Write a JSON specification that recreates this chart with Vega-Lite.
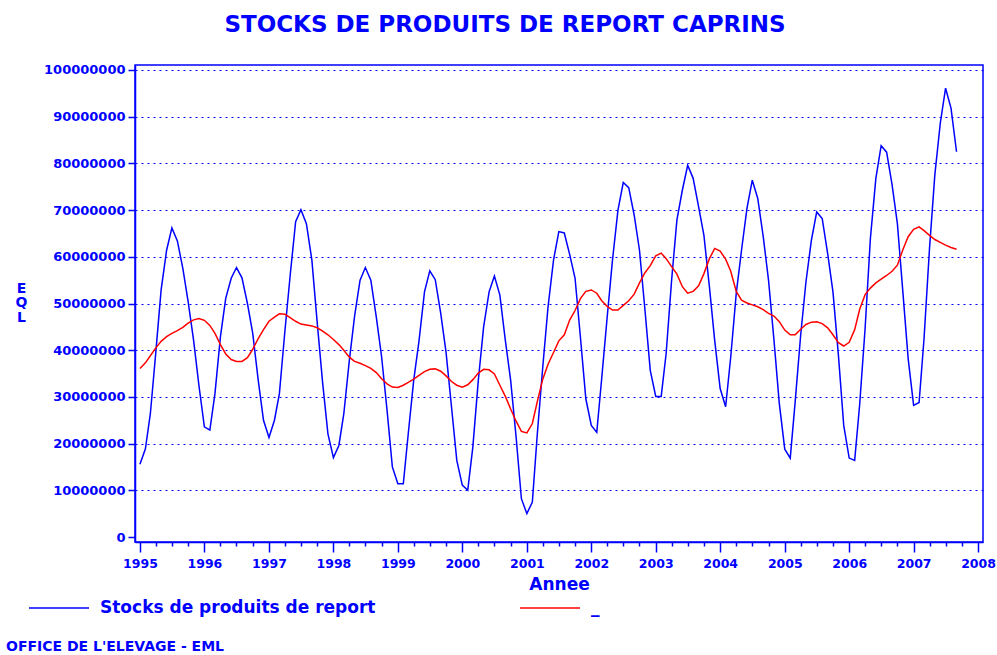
{
"$schema": "https://vega.github.io/schema/vega-lite/v6.json",
"width": 848,
"height": 477,
"autosize": {"type": "none"},
"padding": {"left": 135, "top": 65, "right": 14, "bottom": 113},
"background": "white",
"title": {"text": "STOCKS DE PRODUITS DE REPORT CAPRINS", "font": "DejaVu Sans", "fontSize": 23, "fontWeight": "bold", "color": "#0000FF", "anchor": "middle", "frame": "group", "dx": -54, "baseline": "alphabetic", "offset": 9},
"config": {
  "view": {"stroke": "#0000FF", "strokeWidth": 1.5},
  "axis": {"domainColor": "#0000FF", "domainWidth": 1.5, "tickColor": "#0000FF", "tickWidth": 1.5, "labelColor": "#0000FF", "labelFont": "DejaVu Sans", "labelFontWeight": "bold", "titleColor": "#0000FF", "titleFont": "DejaVu Sans", "titleFontWeight": "bold"}
},
"data": {"values": [
{"date":"1995-01-01","stocks":15600000,"trend":36100000},
{"date":"1995-02-01","stocks":18900000,"trend":37300000},
{"date":"1995-03-01","stocks":26400000,"trend":38800000},
{"date":"1995-04-01","stocks":39600000,"trend":40500000},
{"date":"1995-05-01","stocks":52900000,"trend":41900000},
{"date":"1995-06-01","stocks":61400000,"trend":42900000},
{"date":"1995-07-01","stocks":66200000,"trend":43600000},
{"date":"1995-08-01","stocks":63400000,"trend":44200000},
{"date":"1995-09-01","stocks":57500000,"trend":44900000},
{"date":"1995-10-01","stocks":50400000,"trend":45800000},
{"date":"1995-11-01","stocks":42100000,"trend":46500000},
{"date":"1995-12-01","stocks":32500000,"trend":46800000},
{"date":"1996-01-01","stocks":23600000,"trend":46400000},
{"date":"1996-02-01","stocks":22900000,"trend":45300000},
{"date":"1996-03-01","stocks":30700000,"trend":43600000},
{"date":"1996-04-01","stocks":42900000,"trend":41200000},
{"date":"1996-05-01","stocks":51100000,"trend":39200000},
{"date":"1996-06-01","stocks":55400000,"trend":38000000},
{"date":"1996-07-01","stocks":57700000,"trend":37600000},
{"date":"1996-08-01","stocks":55500000,"trend":37600000},
{"date":"1996-09-01","stocks":50000000,"trend":38400000},
{"date":"1996-10-01","stocks":43600000,"trend":40200000},
{"date":"1996-11-01","stocks":33600000,"trend":42500000},
{"date":"1996-12-01","stocks":25000000,"trend":44400000},
{"date":"1997-01-01","stocks":21300000,"trend":46200000},
{"date":"1997-02-01","stocks":25000000,"trend":47100000},
{"date":"1997-03-01","stocks":30700000,"trend":47800000},
{"date":"1997-04-01","stocks":44000000,"trend":47700000},
{"date":"1997-05-01","stocks":56000000,"trend":47000000},
{"date":"1997-06-01","stocks":67500000,"trend":46200000},
{"date":"1997-07-01","stocks":70100000,"trend":45600000},
{"date":"1997-08-01","stocks":67100000,"trend":45400000},
{"date":"1997-09-01","stocks":59300000,"trend":45200000},
{"date":"1997-10-01","stocks":46000000,"trend":44800000},
{"date":"1997-11-01","stocks":33000000,"trend":44100000},
{"date":"1997-12-01","stocks":22100000,"trend":43300000},
{"date":"1998-01-01","stocks":17000000,"trend":42300000},
{"date":"1998-02-01","stocks":19600000,"trend":41200000},
{"date":"1998-03-01","stocks":26400000,"trend":40000000},
{"date":"1998-04-01","stocks":37700000,"trend":38500000},
{"date":"1998-05-01","stocks":47300000,"trend":37600000},
{"date":"1998-06-01","stocks":55000000,"trend":37200000},
{"date":"1998-07-01","stocks":57700000,"trend":36700000},
{"date":"1998-08-01","stocks":55000000,"trend":36100000},
{"date":"1998-09-01","stocks":47100000,"trend":35200000},
{"date":"1998-10-01","stocks":38600000,"trend":33900000},
{"date":"1998-11-01","stocks":27100000,"trend":32800000},
{"date":"1998-12-01","stocks":15000000,"trend":32100000},
{"date":"1999-01-01","stocks":11400000,"trend":32000000},
{"date":"1999-02-01","stocks":11400000,"trend":32500000},
{"date":"1999-03-01","stocks":22100000,"trend":33100000},
{"date":"1999-04-01","stocks":33600000,"trend":33800000},
{"date":"1999-05-01","stocks":42000000,"trend":34600000},
{"date":"1999-06-01","stocks":52500000,"trend":35400000},
{"date":"1999-07-01","stocks":57000000,"trend":35900000},
{"date":"1999-08-01","stocks":55100000,"trend":36000000},
{"date":"1999-09-01","stocks":47900000,"trend":35500000},
{"date":"1999-10-01","stocks":39600000,"trend":34500000},
{"date":"1999-11-01","stocks":27900000,"trend":33300000},
{"date":"1999-12-01","stocks":16400000,"trend":32500000},
{"date":"2000-01-01","stocks":11100000,"trend":32100000},
{"date":"2000-02-01","stocks":10000000,"trend":32600000},
{"date":"2000-03-01","stocks":19300000,"trend":33700000},
{"date":"2000-04-01","stocks":33600000,"trend":35100000},
{"date":"2000-05-01","stocks":45000000,"trend":35900000},
{"date":"2000-06-01","stocks":52500000,"trend":35800000},
{"date":"2000-07-01","stocks":55900000,"trend":34900000},
{"date":"2000-08-01","stocks":51800000,"trend":32500000},
{"date":"2000-09-01","stocks":42100000,"trend":30100000},
{"date":"2000-10-01","stocks":33600000,"trend":27400000},
{"date":"2000-11-01","stocks":21400000,"trend":24800000},
{"date":"2000-12-01","stocks":8200000,"trend":22600000},
{"date":"2001-01-01","stocks":5000000,"trend":22300000},
{"date":"2001-02-01","stocks":7500000,"trend":24300000},
{"date":"2001-03-01","stocks":22000000,"trend":29000000},
{"date":"2001-04-01","stocks":36400000,"trend":33800000},
{"date":"2001-05-01","stocks":49300000,"trend":37000000},
{"date":"2001-06-01","stocks":59300000,"trend":39500000},
{"date":"2001-07-01","stocks":65400000,"trend":42000000},
{"date":"2001-08-01","stocks":65100000,"trend":43300000},
{"date":"2001-09-01","stocks":60400000,"trend":46500000},
{"date":"2001-10-01","stocks":55400000,"trend":48500000},
{"date":"2001-11-01","stocks":42500000,"trend":51100000},
{"date":"2001-12-01","stocks":29600000,"trend":52600000},
{"date":"2002-01-01","stocks":23900000,"trend":52900000},
{"date":"2002-02-01","stocks":22400000,"trend":52200000},
{"date":"2002-03-01","stocks":34000000,"trend":50600000},
{"date":"2002-04-01","stocks":47100000,"trend":49400000},
{"date":"2002-05-01","stocks":59300000,"trend":48600000},
{"date":"2002-06-01","stocks":70000000,"trend":48600000},
{"date":"2002-07-01","stocks":75900000,"trend":49600000},
{"date":"2002-08-01","stocks":74800000,"trend":50600000},
{"date":"2002-09-01","stocks":68900000,"trend":52000000},
{"date":"2002-10-01","stocks":61400000,"trend":54400000},
{"date":"2002-11-01","stocks":48600000,"trend":56600000},
{"date":"2002-12-01","stocks":35700000,"trend":58100000},
{"date":"2003-01-01","stocks":30100000,"trend":60200000},
{"date":"2003-02-01","stocks":30100000,"trend":60800000},
{"date":"2003-03-01","stocks":39300000,"trend":59600000},
{"date":"2003-04-01","stocks":55000000,"trend":57900000},
{"date":"2003-05-01","stocks":67900000,"trend":56300000},
{"date":"2003-06-01","stocks":74300000,"trend":53600000},
{"date":"2003-07-01","stocks":79600000,"trend":52200000},
{"date":"2003-08-01","stocks":76800000,"trend":52600000},
{"date":"2003-09-01","stocks":70700000,"trend":53800000},
{"date":"2003-10-01","stocks":64600000,"trend":56400000},
{"date":"2003-11-01","stocks":53600000,"trend":59600000},
{"date":"2003-12-01","stocks":42100000,"trend":61800000},
{"date":"2004-01-01","stocks":31800000,"trend":61200000},
{"date":"2004-02-01","stocks":27900000,"trend":59500000},
{"date":"2004-03-01","stocks":38600000,"trend":56900000},
{"date":"2004-04-01","stocks":52100000,"trend":52600000},
{"date":"2004-05-01","stocks":61400000,"trend":50700000},
{"date":"2004-06-01","stocks":70400000,"trend":50100000},
{"date":"2004-07-01","stocks":76400000,"trend":49700000},
{"date":"2004-08-01","stocks":72500000,"trend":49300000},
{"date":"2004-09-01","stocks":64300000,"trend":48700000},
{"date":"2004-10-01","stocks":55000000,"trend":47900000},
{"date":"2004-11-01","stocks":42100000,"trend":47300000},
{"date":"2004-12-01","stocks":28600000,"trend":46100000},
{"date":"2005-01-01","stocks":18800000,"trend":44300000},
{"date":"2005-02-01","stocks":16900000,"trend":43300000},
{"date":"2005-03-01","stocks":29000000,"trend":43300000},
{"date":"2005-04-01","stocks":43200000,"trend":44500000},
{"date":"2005-05-01","stocks":54600000,"trend":45500000},
{"date":"2005-06-01","stocks":63600000,"trend":46000000},
{"date":"2005-07-01","stocks":69600000,"trend":46100000},
{"date":"2005-08-01","stocks":68200000,"trend":45700000},
{"date":"2005-09-01","stocks":60700000,"trend":44800000},
{"date":"2005-10-01","stocks":52500000,"trend":43300000},
{"date":"2005-11-01","stocks":38900000,"trend":41600000},
{"date":"2005-12-01","stocks":23900000,"trend":40900000},
{"date":"2006-01-01","stocks":16900000,"trend":41700000},
{"date":"2006-02-01","stocks":16400000,"trend":44400000},
{"date":"2006-03-01","stocks":28200000,"trend":48700000},
{"date":"2006-04-01","stocks":44600000,"trend":51900000},
{"date":"2006-05-01","stocks":63900000,"trend":53300000},
{"date":"2006-06-01","stocks":76800000,"trend":54400000},
{"date":"2006-07-01","stocks":83800000,"trend":55200000},
{"date":"2006-08-01","stocks":82400000,"trend":56000000},
{"date":"2006-09-01","stocks":75400000,"trend":56900000},
{"date":"2006-10-01","stocks":67100000,"trend":58200000},
{"date":"2006-11-01","stocks":52500000,"trend":61500000},
{"date":"2006-12-01","stocks":38200000,"trend":64300000},
{"date":"2007-01-01","stocks":28200000,"trend":65900000},
{"date":"2007-02-01","stocks":28800000,"trend":66400000},
{"date":"2007-03-01","stocks":42500000,"trend":65600000},
{"date":"2007-04-01","stocks":61800000,"trend":64600000},
{"date":"2007-05-01","stocks":77500000,"trend":63700000},
{"date":"2007-06-01","stocks":88600000,"trend":63100000},
{"date":"2007-07-01","stocks":96100000,"trend":62500000},
{"date":"2007-08-01","stocks":91800000,"trend":62000000},
{"date":"2007-09-01","stocks":82500000,"trend":61600000}
]},
"transform": [{"fold": ["stocks", "trend"], "as": ["serie", "value"]}],
"mark": {"type": "line", "strokeWidth": 1.5},
"encoding": {
  "x": {"field": "date", "type": "temporal",
    "scale": {"type": "utc", "domain": [786499200000, 1201564800000], "nice": false},
    "axis": {"title": "Annee", "titleFontSize": 17, "titleBaseline": "alphabetic", "titleY": 47,
      "tickCount": {"interval": "month", "step": 3},
      "labelExpr": "utcmonth(datum.value) === 0 ? utcFormat(datum.value, '%Y') : ''",
      "labelFontSize": 12.5, "labelPadding": 5, "labelFlush": false, "labelOverlap": false, "labelBound": false,
      "grid": false,
      "tickSize": {"condition": {"test": "utcmonth(datum.value) === 0", "value": 10}, "value": 4}}},
  "y": {"field": "value", "type": "quantitative",
    "scale": {"domain": [-1070000, 101070000], "nice": false, "zero": false},
    "axis": {"title": ["E", "Q", "L"], "titleAngle": 0, "titleFontSize": 14, "titleLineHeight": 14.5, "titleAlign": "center", "titleBaseline": "top", "titleX": -114, "titleY": 216,
      "values": [0, 10000000, 20000000, 30000000, 40000000, 50000000, 60000000, 70000000, 80000000, 90000000, 100000000],
      "format": "d", "labelFontSize": 13, "labelPadding": 3, "tickSize": 7,
      "grid": true, "gridColor": "#0000FF", "gridDash": [2, 4], "gridWidth": 1,
      "gridOpacity": {"condition": {"test": "datum.value === 0", "value": 0}, "value": 1}}},
  "color": {"field": "serie", "type": "nominal",
    "scale": {"domain": ["stocks", "trend"], "range": ["#0000FF", "#FF0000"]},
    "legend": {"title": "OFFICE DE L'ELEVAGE - EML", "orient": "none", "legendX": -129, "legendY": 512, "direction": "horizontal",
      "titleOrient": "bottom", "titleAnchor": "start", "titleFont": "DejaVu Sans", "titleFontSize": 14, "titleFontWeight": "bold", "titleColor": "#0000FF", "titlePadding": 24, "titleLimit": 0,
      "symbolType": "stroke", "symbolSize": 3600, "symbolStrokeWidth": 1.5, "symbolOffset": 22, "labelOffset": 10,
      "labelFont": "DejaVu Sans", "labelFontSize": 17, "labelFontWeight": "bold", "labelColor": "#0000FF", "labelLimit": 0,
      "labelExpr": "datum.value === 'stocks' ? 'Stocks de produits de report' : '_'",
      "columnPadding": 121}}
}
}
